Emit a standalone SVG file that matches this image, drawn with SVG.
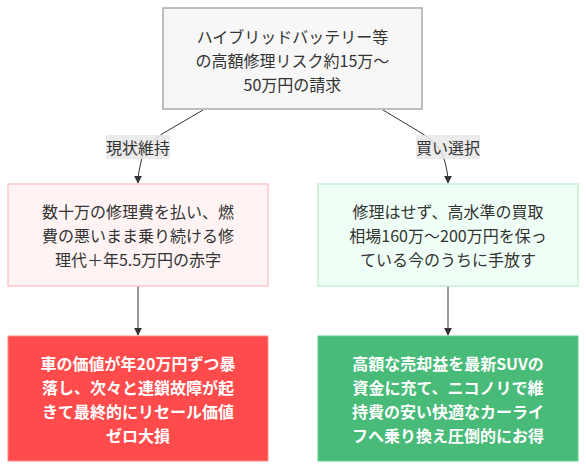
<svg xmlns="http://www.w3.org/2000/svg" width="586" height="470" viewBox="0 0 586 470">
<defs>
<style>
text{font-family:"Noto Sans CJK JP","Noto Sans",sans-serif;font-size:16px;text-anchor:middle;dominant-baseline:central;fill:#333}
.w{fill:#fff;font-weight:bold}
.edge{fill:none;stroke:#333;stroke-width:1}
.lbl{fill:#e8e8e8;opacity:0.85}
</style>
<marker id="arr" viewBox="0 0 10 10" refX="9" refY="5" markerWidth="8" markerHeight="8" orient="auto-start-reverse" markerUnits="userSpaceOnUse">
<path d="M0,0 L10,5 L0,10 z" fill="#333"/>
</marker>
</defs>
<rect width="586" height="470" fill="#fff"/>
<g id="edges">
<path class="edge" d="M203,110 L162,134 Q143,146 141,162 Q138,172 138,183" marker-end="url(#arr)"/>
<path class="edge" d="M383,110 L423,134 Q442,146 445,162 Q448,172 448,183" marker-end="url(#arr)"/>
<path class="edge" d="M138,286 L138,335" marker-end="url(#arr)"/>
<path class="edge" d="M448,286 L448,335" marker-end="url(#arr)"/>
<rect class="lbl" x="106" y="135" width="64" height="24"/>
<text x="138" y="147">現状維持</text>
<rect class="lbl" x="416" y="135" width="64" height="24"/>
<text x="448" y="147">買い選択</text>
</g>
<g id="top">
<rect x="163" y="8" width="259" height="101" fill="#f7f7f7" stroke="#aaa" stroke-width="1.5"/>
<text x="292.5" y="36">ハイブリッドバッテリー等</text>
<text x="292.5" y="60">の高額修理リスク約15万～</text>
<text x="292.5" y="84">50万円の請求</text>
</g>
<g id="keep">
<rect x="8" y="184" width="260" height="102" fill="#fff3f3" stroke="#ffc9c9" stroke-width="1.5"/>
<text x="138" y="211">数十万の修理費を払い、燃</text>
<text x="138" y="235">費の悪いまま乗り続ける修</text>
<text x="138" y="259">理代＋年5.5万円の赤字</text>
</g>
<g id="sell">
<rect x="318" y="184" width="260" height="102" fill="#f0fff5" stroke="#c6f0d6" stroke-width="1.5"/>
<text x="448" y="211">修理はせず、高水準の買取</text>
<text x="448" y="235">相場160万～200万円を保っ</text>
<text x="448" y="259">ている今のうちに手放す</text>
</g>
<g id="loss">
<rect x="8" y="336" width="260" height="125" fill="#ff4b4b" stroke="#ff8c8c" stroke-width="1"/>
<text class="w" x="138" y="363">車の価値が年20万円ずつ暴</text>
<text class="w" x="138" y="387">落し、次々と連鎖故障が起</text>
<text class="w" x="138" y="411">きて最終的にリセール価値</text>
<text class="w" x="138" y="435">ゼロ大損</text>
</g>
<g id="gain">
<rect x="318" y="336" width="260" height="125" fill="#48bb78" stroke="#5fcf8e" stroke-width="1"/>
<text class="w" x="448" y="363">高額な売却益を最新SUVの</text>
<text class="w" x="448" y="387">資金に充て、ニコノリで維</text>
<text class="w" x="448" y="411">持費の安い快適なカーライ</text>
<text class="w" x="448" y="435">フへ乗り換え圧倒的にお得</text>
</g>
</svg>
